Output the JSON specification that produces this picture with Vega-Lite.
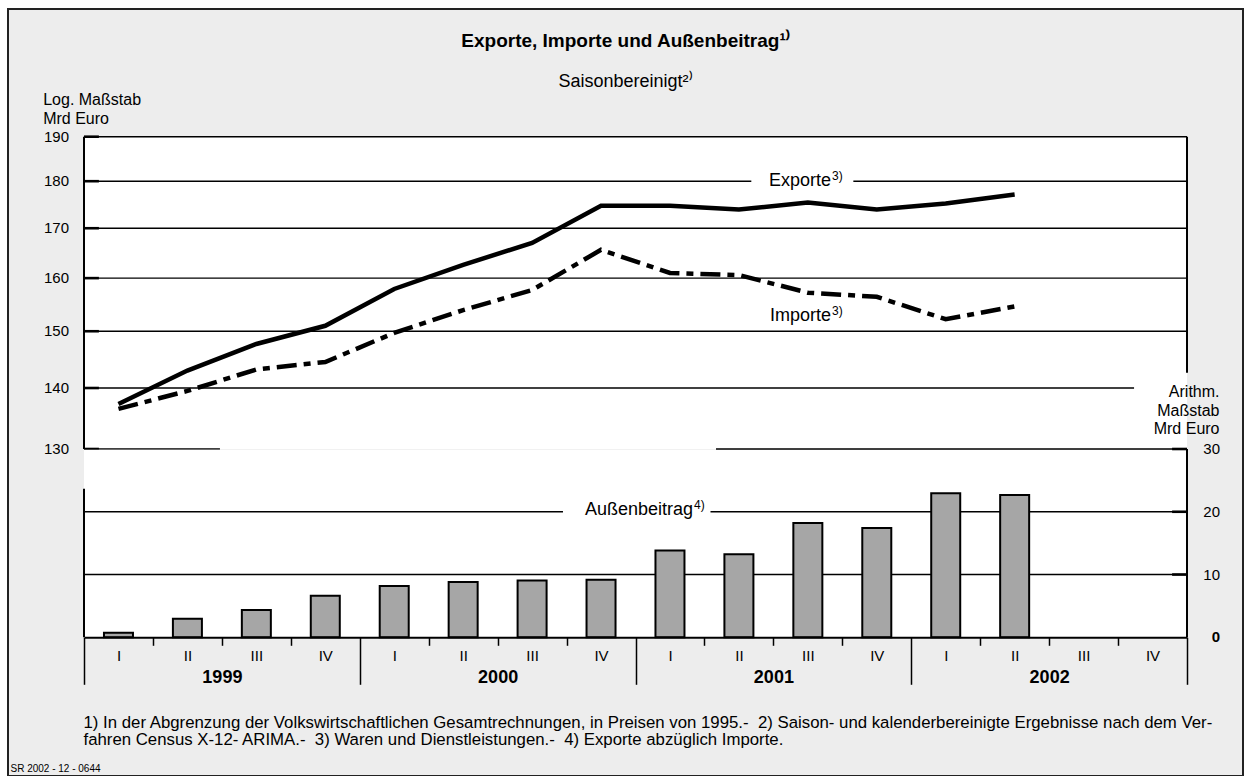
{
  "$schema": "https://vega.github.io/schema/vega-lite/v6.json",
  "width": 1235,
  "height": 767,
  "autosize": {"type": "none"},
  "padding": {"left": 8, "top": 9, "right": 9, "bottom": 0},
  "background": "white",
  "config": {
    "font": "Liberation Sans",
    "view": {"fill": "#ededed", "stroke": "#222222", "strokeWidth": 2},
    "axis": {"labelColor": "black", "titleColor": "black", "domainColor": "black", "tickColor": "black", "grid": false, "labelFont": "Liberation Sans", "titleFont": "Liberation Sans", "labelOverlap": false, "labelFlush": false, "labelBound": false}
  },
  "title": {
    "text": "Exporte, Importe und Außenbeitrag¹⁾",
    "subtitle": "Saisonbereinigt²⁾",
    "anchor": "middle",
    "frame": "group",
    "orient": "top",
    "offset": -82,
    "fontSize": 19,
    "fontWeight": "bold",
    "color": "black",
    "subtitleFontSize": 18,
    "subtitleColor": "black",
    "subtitlePadding": 22,
    "font": "Liberation Sans",
    "subtitleFont": "Liberation Sans"
  },
  "datasets": {
    "quarters": [
      {"t": 1999.125, "exporte": 137.3, "importe": 136.5, "aussenbeitrag": 0.74},
      {"t": 1999.375, "exporte": 143.0, "importe": 139.5, "aussenbeitrag": 2.97},
      {"t": 1999.625, "exporte": 147.7, "importe": 143.2, "aussenbeitrag": 4.35},
      {"t": 1999.875, "exporte": 151.0, "importe": 144.5, "aussenbeitrag": 6.62},
      {"t": 2000.125, "exporte": 157.9, "importe": 149.7, "aussenbeitrag": 8.16},
      {"t": 2000.375, "exporte": 162.6, "importe": 153.9, "aussenbeitrag": 8.80},
      {"t": 2000.625, "exporte": 167.0, "importe": 157.7, "aussenbeitrag": 9.06},
      {"t": 2000.875, "exporte": 174.7, "importe": 165.6, "aussenbeitrag": 9.17},
      {"t": 2001.125, "exporte": 174.7, "importe": 161.0, "aussenbeitrag": 13.83},
      {"t": 2001.375, "exporte": 173.9, "importe": 160.6, "aussenbeitrag": 13.25},
      {"t": 2001.625, "exporte": 175.4, "importe": 157.2, "aussenbeitrag": 18.23},
      {"t": 2001.875, "exporte": 173.9, "importe": 156.4, "aussenbeitrag": 17.43},
      {"t": 2002.125, "exporte": 175.2, "importe": 152.2, "aussenbeitrag": 22.95},
      {"t": 2002.375, "exporte": 177.1, "importe": 154.6, "aussenbeitrag": 22.68}
    ],
    "grid_upper": [
      {"v": 190, "t0": 1999, "t1": 2003},
      {"v": 180, "t0": 1999, "t1": 2001.42},
      {"v": 180, "t0": 2001.79, "t1": 2003},
      {"v": 170, "t0": 1999, "t1": 2003},
      {"v": 160, "t0": 1999, "t1": 2003},
      {"v": 150, "t0": 1999, "t1": 2003},
      {"v": 140, "t0": 1999, "t1": 2002.808},
      {"v": 130, "t0": 1999, "t1": 1999.493}
    ],
    "grid_lower": [
      {"v": 30, "t0": 2001.292, "t1": 2003},
      {"v": 20, "t0": 1999, "t1": 2000.737},
      {"v": 20, "t0": 2001.272, "t1": 2003},
      {"v": 10, "t0": 1999, "t1": 2003}
    ],
    "edge_upper": [
      {"t": 2003, "v0": 142.6, "v1": 190},
      {"t": 1999, "v0": 130, "v1": 190}
    ],
    "edge_lower": [
      {"t": 1999, "v0": 0, "v1": 23.65},
      {"t": 2003, "v0": 0, "v1": 30}
    ],
    "ticks_upper": [{"v": 130}, {"v": 140}, {"v": 150}, {"v": 160}, {"v": 170}, {"v": 180}, {"v": 190}],
    "ticks_lower": [{"v": 0}, {"v": 10}, {"v": 20}, {"v": 30}],
    "labels_upper": [
      {"label": "Exporte", "note": "3)", "t": 2001.709, "v": 180},
      {"label": "Importe", "note": "3)", "t": 2001.709, "v": 152.8}
    ],
    "labels_lower": [
      {"label": "Außenbeitrag", "note": "4)", "t": 2001.2085, "v": 20.3}
    ]
  },
  "layer": [
    {
      "layer": [
        {
          "data": {"values": [{}]},
          "mark": {"type": "rect", "fill": "white", "strokeWidth": 0},
          "encoding": {
            "x": {"datum": 1999, "type": "quantitative", "scale": {"domain": [1999, 2003], "range": [76, 1179], "nice": false, "zero": false, "padding": 0}, "axis": null},
            "x2": {"datum": 2003},
            "y": {"datum": 130, "type": "quantitative", "scale": {"type": "log", "domain": [130, 190], "range": [440, 127.7], "nice": false}, "axis": null},
            "y2": {"datum": 190}
          }
        },
        {
          "data": {"name": "grid_upper"},
          "mark": {"type": "rule", "color": "black", "strokeWidth": 1.4},
          "encoding": {
            "x": {"field": "t0", "type": "quantitative", "scale": {"domain": [1999, 2003], "range": [76, 1179], "nice": false, "zero": false, "padding": 0}, "axis": null},
            "x2": {"field": "t1"},
            "y": {"field": "v", "type": "quantitative", "scale": {"type": "log", "domain": [130, 190], "range": [440, 127.7], "nice": false}, "axis": null}
          }
        },
        {
          "data": {"name": "ticks_upper"},
          "mark": {"type": "rule", "color": "black", "strokeWidth": 2.6},
          "encoding": {
            "x": {"datum": 1999, "type": "quantitative", "scale": {"domain": [1999, 2003], "range": [76, 1179], "nice": false, "zero": false, "padding": 0}, "axis": null},
            "x2": {"datum": 1999.054},
            "y": {"field": "v", "type": "quantitative", "scale": {"type": "log", "domain": [130, 190], "range": [440, 127.7], "nice": false}, "axis": null}
          }
        },
        {
          "data": {"name": "edge_upper"},
          "mark": {"type": "rule", "color": "black", "strokeWidth": 2},
          "encoding": {
            "x": {"field": "t", "type": "quantitative", "scale": {"domain": [1999, 2003], "range": [76, 1179], "nice": false, "zero": false, "padding": 0}, "axis": null},
            "y": {"field": "v0", "type": "quantitative", "scale": {"type": "log", "domain": [130, 190], "range": [440, 127.7], "nice": false}, "axis": null},
            "y2": {"field": "v1"}
          }
        },
        {
          "data": {"name": "ticks_upper"},
          "mark": {"type": "text", "align": "right", "baseline": "middle", "fontSize": 15, "dx": -15, "color": "black"},
          "encoding": {
            "x": {"datum": 1999, "type": "quantitative", "scale": {"domain": [1999, 2003], "range": [76, 1179], "nice": false, "zero": false, "padding": 0}, "axis": null},
            "y": {"field": "v", "type": "quantitative", "scale": {"type": "log", "domain": [130, 190], "range": [440, 127.7], "nice": false}, "axis": null},
            "text": {"field": "v", "type": "quantitative", "format": "d"}
          }
        },
        {
          "data": {"name": "quarters"},
          "mark": {"type": "line", "color": "black", "strokeWidth": 4.5},
          "encoding": {
            "x": {"field": "t", "type": "quantitative", "scale": {"domain": [1999, 2003], "range": [76, 1179], "nice": false, "zero": false, "padding": 0}, "axis": null},
            "y": {"field": "exporte", "type": "quantitative", "scale": {"type": "log", "domain": [130, 190], "range": [440, 127.7], "nice": false}, "axis": null}
          }
        },
        {
          "data": {"name": "quarters"},
          "mark": {"type": "line", "color": "black", "strokeWidth": 4.5, "strokeDash": [20, 7, 7, 7]},
          "encoding": {
            "x": {"field": "t", "type": "quantitative", "scale": {"domain": [1999, 2003], "range": [76, 1179], "nice": false, "zero": false, "padding": 0}, "axis": null},
            "y": {"field": "importe", "type": "quantitative", "scale": {"type": "log", "domain": [130, 190], "range": [440, 127.7], "nice": false}, "axis": null}
          }
        },
        {
          "data": {"name": "labels_upper"},
          "mark": {"type": "text", "align": "right", "baseline": "middle", "fontSize": 18, "color": "black"},
          "encoding": {
            "x": {"field": "t", "type": "quantitative", "scale": {"domain": [1999, 2003], "range": [76, 1179], "nice": false, "zero": false, "padding": 0}, "axis": null},
            "y": {"field": "v", "type": "quantitative", "scale": {"type": "log", "domain": [130, 190], "range": [440, 127.7], "nice": false}, "axis": null},
            "text": {"field": "label"}
          }
        },
        {
          "data": {"name": "labels_upper"},
          "mark": {"type": "text", "align": "left", "baseline": "middle", "fontSize": 12, "dx": 1, "dy": -5, "color": "black"},
          "encoding": {
            "x": {"field": "t", "type": "quantitative", "scale": {"domain": [1999, 2003], "range": [76, 1179], "nice": false, "zero": false, "padding": 0}, "axis": null},
            "y": {"field": "v", "type": "quantitative", "scale": {"type": "log", "domain": [130, 190], "range": [440, 127.7], "nice": false}, "axis": null},
            "text": {"field": "note"}
          }
        }
      ]
    },
    {
      "layer": [
        {
          "data": {"values": [{}]},
          "mark": {"type": "rect", "fill": "white", "strokeWidth": 0},
          "encoding": {
            "x": {"datum": 1999, "type": "quantitative", "scale": {"domain": [1999, 2003], "range": [76, 1179], "nice": false, "zero": false, "padding": 0}, "axis": null},
            "x2": {"datum": 2003},
            "y": {"datum": 0, "type": "quantitative", "scale": {"domain": [0, 30], "range": [628.3, 440], "nice": false}, "axis": null},
            "y2": {"datum": 29.9}
          }
        },
        {
          "data": {"name": "grid_lower"},
          "mark": {"type": "rule", "color": "black", "strokeWidth": 1.4},
          "encoding": {
            "x": {
              "field": "t0", "type": "quantitative",
              "scale": {"domain": [1999, 2003], "range": [76, 1179], "nice": false, "zero": false, "padding": 0},
              "axis": {
                "orient": "bottom", "offset": -138.7,
                "values": [1999.25, 1999.5, 1999.75, 2000.25, 2000.5, 2000.75, 2001.25, 2001.5, 2001.75, 2002.25, 2002.5, 2002.75],
                "ticks": true, "tickSize": 8, "tickWidth": 1.5, "labels": false, "domain": false,
                "title": "SR 2002 - 12 - 0644", "titleAngle": 0, "titleAlign": "left", "titleBaseline": "alphabetic",
                "titleX": 2, "titleY": 134, "titleFontSize": 10, "titleFontWeight": "normal"
              }
            },
            "x2": {"field": "t1"},
            "y": {"field": "v", "type": "quantitative", "scale": {"domain": [0, 30], "range": [628.3, 440], "nice": false}, "axis": null}
          }
        },
        {
          "data": {"name": "ticks_lower"},
          "transform": [{"filter": "datum.v > 0"}],
          "mark": {"type": "rule", "color": "black", "strokeWidth": 2.6},
          "encoding": {
            "x": {"datum": 2002.946, "type": "quantitative", "scale": {"domain": [1999, 2003], "range": [76, 1179], "nice": false, "zero": false, "padding": 0}, "axis": null},
            "x2": {"datum": 2003},
            "y": {"field": "v", "type": "quantitative", "scale": {"domain": [0, 30], "range": [628.3, 440], "nice": false}, "axis": null}
          }
        },
        {
          "data": {"name": "edge_lower"},
          "mark": {"type": "rule", "color": "black", "strokeWidth": 2},
          "encoding": {
            "x": {
              "field": "t", "type": "quantitative",
              "scale": {"domain": [1999, 2003], "range": [76, 1179], "nice": false, "zero": false, "padding": 0},
              "axis": {
                "orient": "bottom", "offset": -138.7, "values": [1999, 2000, 2001, 2002, 2003],
                "ticks": true, "tickSize": 47, "tickWidth": 1.5, "labels": false, "domain": false,
                "title": ["Log. Maßstab", "Mrd Euro"], "titleAngle": 0, "titleAlign": "left", "titleBaseline": "alphabetic",
                "titleX": 34.7, "titleY": -533.3, "titleFontSize": 16, "titleFontWeight": "normal", "titleLineHeight": 19
              }
            },
            "y": {"field": "v0", "type": "quantitative", "scale": {"domain": [0, 30], "range": [628.3, 440], "nice": false}, "axis": null},
            "y2": {"field": "v1"}
          }
        },
        {
          "data": {"name": "quarters"},
          "mark": {"type": "bar", "orient": "vertical", "size": 29, "fill": "#a6a6a6", "stroke": "black", "strokeWidth": 2},
          "encoding": {
            "x": {
              "field": "t", "type": "quantitative",
              "scale": {"domain": [1999, 2003], "range": [76, 1179], "nice": false, "zero": false, "padding": 0},
              "axis": {
                "orient": "bottom", "offset": -138.7, "zindex": 1,
                "values": [1999.125, 1999.375, 1999.625, 1999.875, 2000.125, 2000.375, 2000.625, 2000.875, 2001.125, 2001.375, 2001.625, 2001.875, 2002.125, 2002.375, 2002.625, 2002.875],
                "ticks": false, "tickSize": 0, "domain": true, "domainWidth": 2, "domainColor": "black",
                "labelExpr": "['I','II','III','IV'][floor((datum.value - floor(datum.value)) * 4)]",
                "labelPadding": 18, "labelBaseline": "middle", "labelFontSize": 15,
                "title": ["Arithm.", "Maßstab", "Mrd Euro"], "titleAngle": 0, "titleAlign": "right", "titleBaseline": "alphabetic",
                "titleX": 1211, "titleY": -240.8, "titleLineHeight": 18.5, "titleFontSize": 16, "titleFontWeight": "normal"
              }
            },
            "y": {"field": "aussenbeitrag", "type": "quantitative", "scale": {"domain": [0, 30], "range": [628.3, 440], "nice": false}, "axis": null}
          }
        },
        {
          "data": {"name": "ticks_lower"},
          "transform": [{"filter": "datum.v > 0"}],
          "mark": {"type": "text", "align": "right", "baseline": "middle", "fontSize": 15, "dx": 33, "color": "black"},
          "encoding": {
            "x": {"datum": 2003, "type": "quantitative", "scale": {"domain": [1999, 2003], "range": [76, 1179], "nice": false, "zero": false, "padding": 0}, "axis": null},
            "y": {"field": "v", "type": "quantitative", "scale": {"domain": [0, 30], "range": [628.3, 440], "nice": false}, "axis": null},
            "text": {"field": "v", "type": "quantitative", "format": "d"}
          }
        },
        {
          "data": {"name": "ticks_lower"},
          "transform": [{"filter": "datum.v === 0"}],
          "mark": {"type": "text", "align": "right", "baseline": "middle", "fontSize": 15, "fontWeight": "bold", "dx": 33, "color": "black"},
          "encoding": {
            "x": {"datum": 2003, "type": "quantitative", "scale": {"domain": [1999, 2003], "range": [76, 1179], "nice": false, "zero": false, "padding": 0}, "axis": null},
            "y": {"field": "v", "type": "quantitative", "scale": {"domain": [0, 30], "range": [628.3, 440], "nice": false}, "axis": null},
            "text": {"field": "v", "type": "quantitative", "format": "d"}
          }
        },
        {
          "data": {"name": "labels_lower"},
          "mark": {"type": "text", "align": "right", "baseline": "middle", "fontSize": 18, "color": "black"},
          "encoding": {
            "x": {
              "field": "t", "type": "quantitative",
              "scale": {"domain": [1999, 2003], "range": [76, 1179], "nice": false, "zero": false, "padding": 0},
              "axis": {
                "orient": "bottom", "offset": -138.7, "values": [1999.5, 2000.5, 2001.5, 2002.5],
                "ticks": false, "tickSize": 0, "domain": false,
                "labelExpr": "'' + floor(datum.value)", "labelFontWeight": "bold", "labelFontSize": 18,
                "labelPadding": 40, "labelBaseline": "middle",
                "title": ["1) In der Abgrenzung der Volkswirtschaftlichen Gesamtrechnungen, in Preisen von 1995.-\u00a0 2) Saison- und kalenderbereinigte Ergebnisse nach dem Ver-", "fahren Census X-12- ARIMA.-\u00a0 3) Waren und Dienstleistungen.-\u00a0 4) Exporte abzüglich Importe."],
                "titleAngle": 0, "titleAlign": "left", "titleBaseline": "alphabetic", "titleX": 75, "titleY": 89.7,
                "titleFontSize": 16.8, "titleFontWeight": "normal", "titleLineHeight": 17
              }
            },
            "y": {"field": "v", "type": "quantitative", "scale": {"domain": [0, 30], "range": [628.3, 440], "nice": false}, "axis": null},
            "text": {"field": "label"}
          }
        },
        {
          "data": {"name": "labels_lower"},
          "mark": {"type": "text", "align": "left", "baseline": "middle", "fontSize": 12, "dx": 1, "dy": -5, "color": "black"},
          "encoding": {
            "x": {"field": "t", "type": "quantitative", "scale": {"domain": [1999, 2003], "range": [76, 1179], "nice": false, "zero": false, "padding": 0}, "axis": null},
            "y": {"field": "v", "type": "quantitative", "scale": {"domain": [0, 30], "range": [628.3, 440], "nice": false}, "axis": null},
            "text": {"field": "note"}
          }
        }
      ],
      "resolve": {"axis": {"x": "independent"}}
    }
  ],
  "resolve": {"scale": {"y": "independent"}, "axis": {"x": "independent"}}
}
